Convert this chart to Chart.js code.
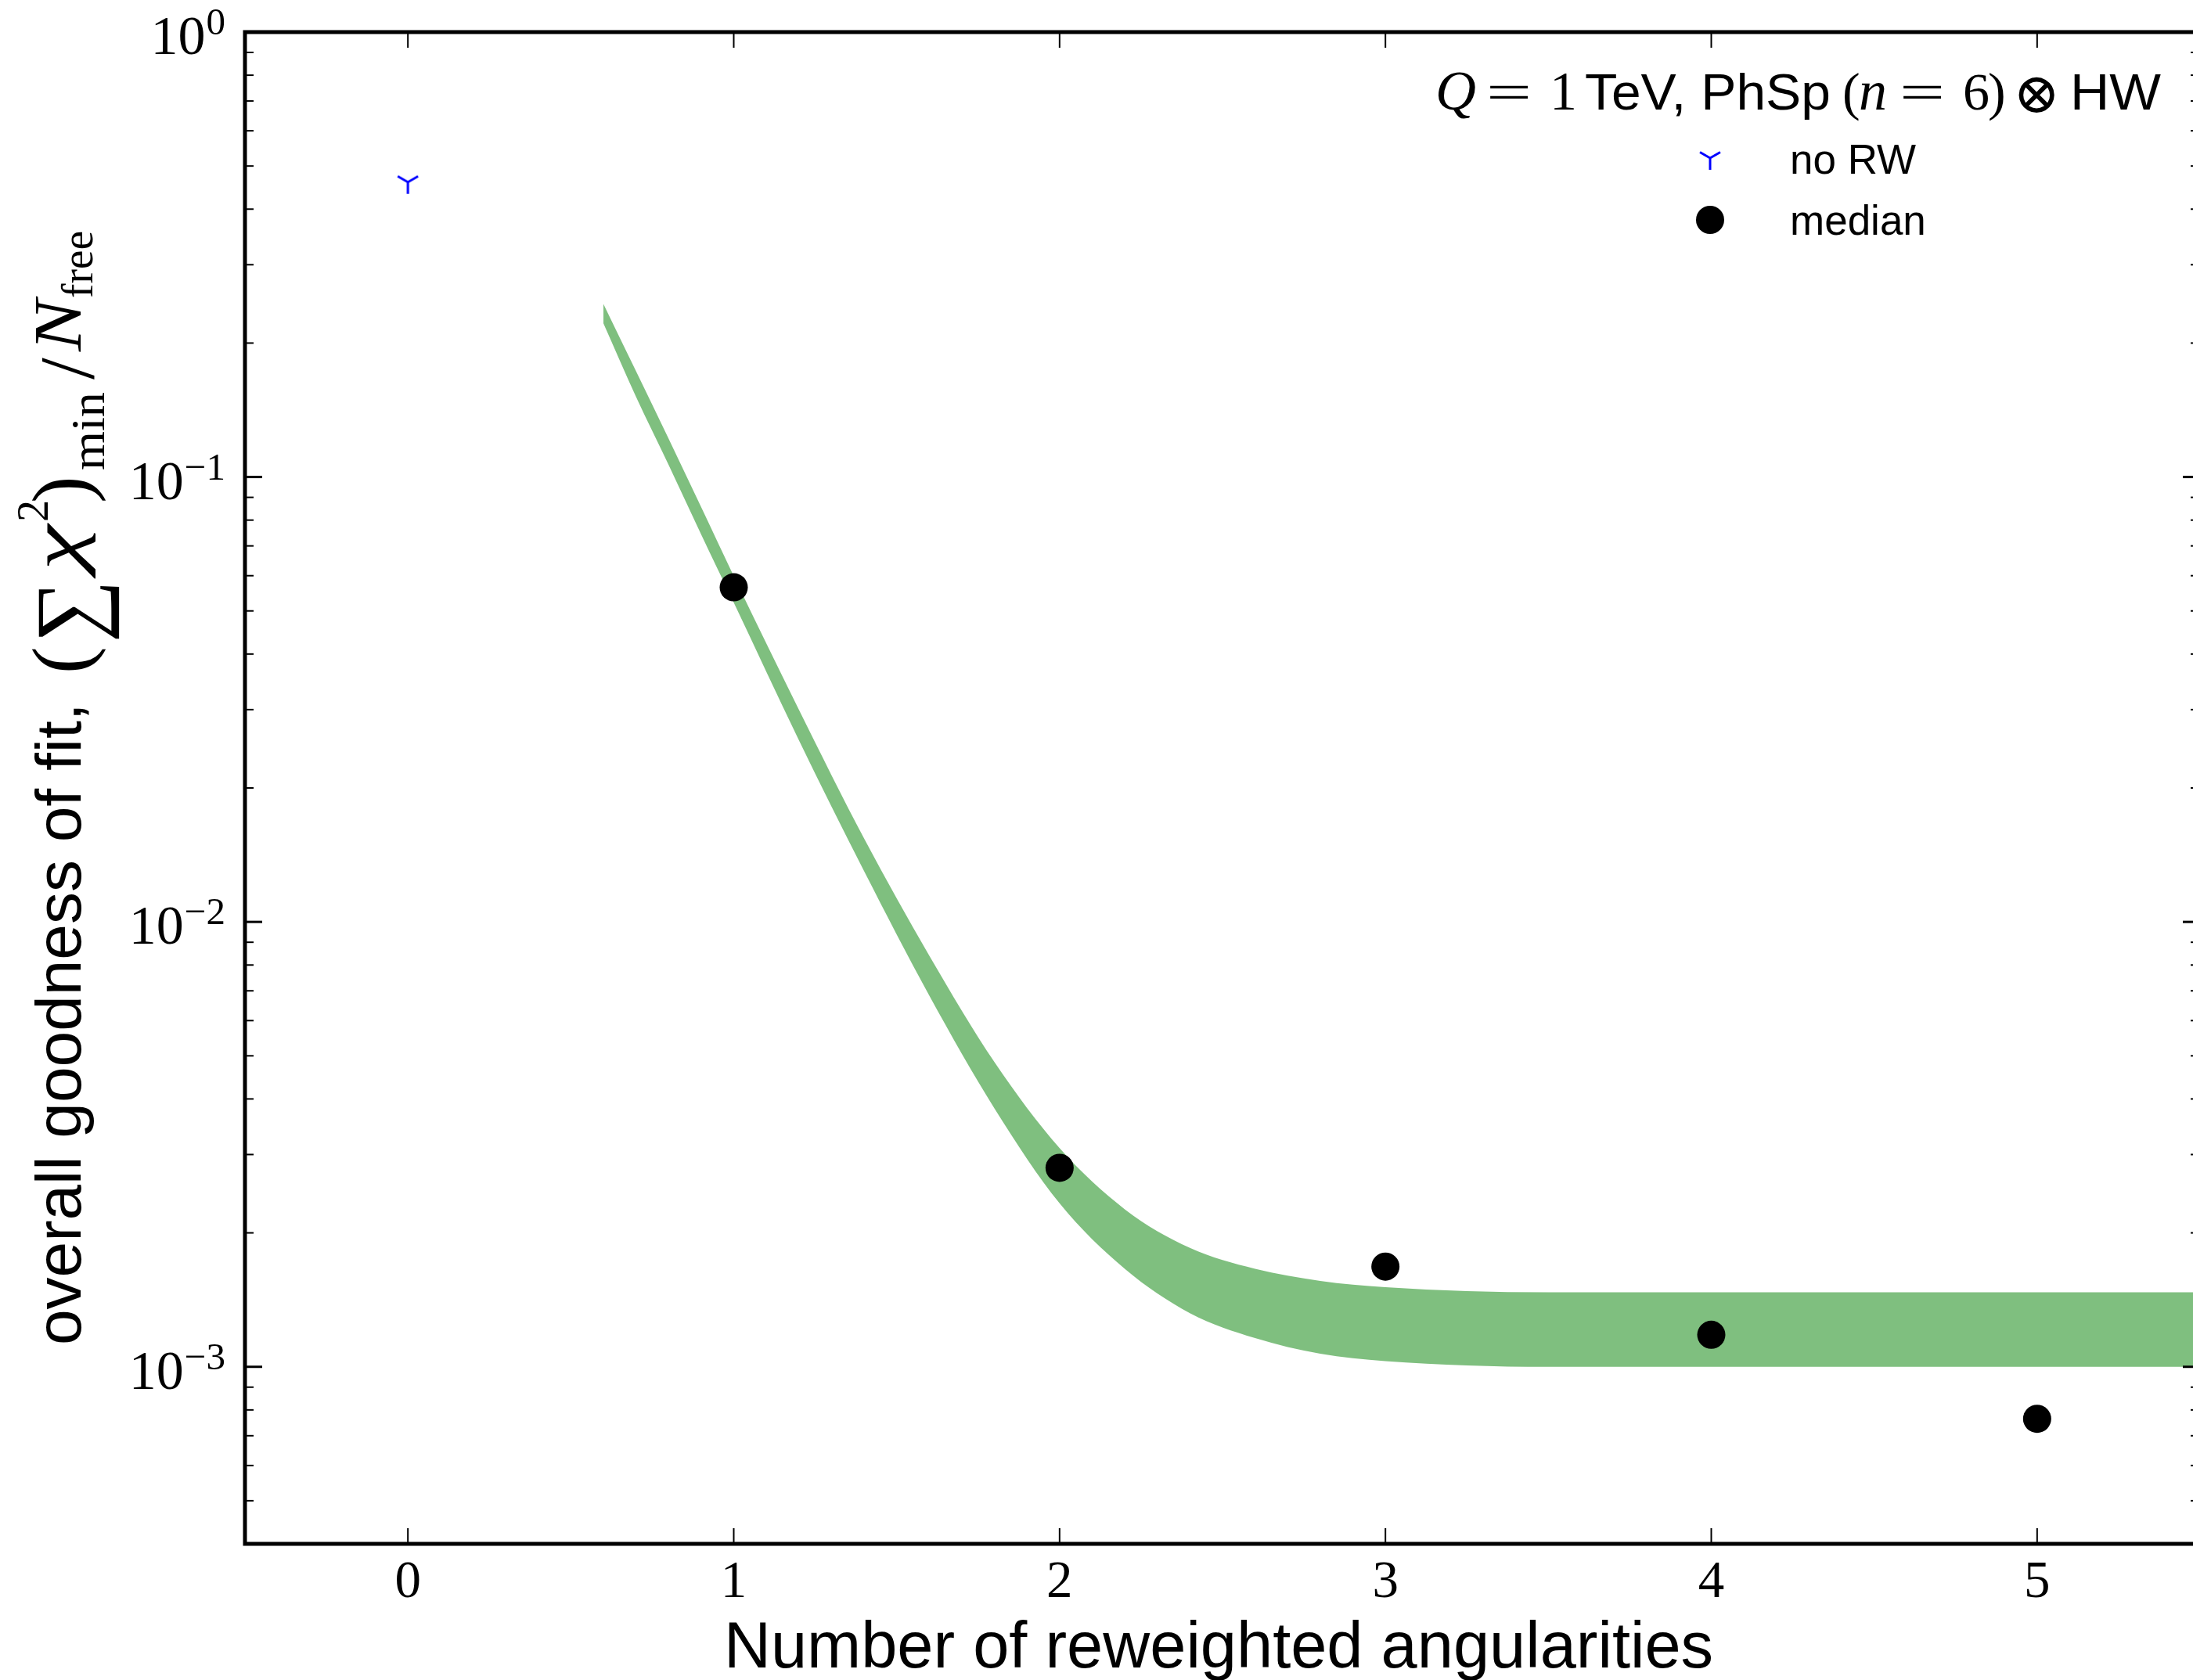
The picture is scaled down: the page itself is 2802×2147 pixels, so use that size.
<!DOCTYPE html>
<html><head><meta charset="utf-8">
<script src="https://cdn.jsdelivr.net/npm/chart.js@4.4.1/dist/chart.umd.min.js"></script>
<style>html,body{margin:0;padding:0;background:#fff;overflow:hidden;width:2802px;height:2147px}canvas{display:block}</style>
</head><body>
<canvas id="c" width="2830" height="2147"></canvas>
<script>
// ---- data ----
const xTicks = [0, 1, 2, 3, 4, 5];
const xTickLabels = ['0', '1', '2', '3', '4', '5'];
const yMajorTicks = [1e-3, 1e-2, 1e-1, 1];
const yTickExponents = ['\u22123', '\u22122', '\u22121', '0'];
const noRwX = [0];
const noRwY = [0.46];
const medianX = [1, 2, 3, 4, 5];
const medianY = [0.0565, 0.00280, 0.00168, 0.00118, 0.000764];
const bandX = [0.6, 0.7, 0.8, 0.9, 1.0, 1.2, 1.4, 1.6, 1.8, 2.0, 2.2, 2.4, 2.6, 2.8, 3.0, 3.5, 4.0, 4.5, 5.0, 5.5];
const bandUpper = [0.245, 0.173, 0.122, 0.0856, 0.0599, 0.0300, 0.0154, 0.0084, 0.00484, 0.00310, 0.00226, 0.00185, 0.00166, 0.00156, 0.00151, 0.00147, 0.00147, 0.00147, 0.00147, 0.00147];
const bandLower = [0.2216, 0.1515, 0.1065, 0.0743, 0.0522, 0.0256, 0.0130, 0.00683, 0.00381, 0.00233, 0.00166, 0.00132, 0.00116, 0.00107, 0.00103, 0.00100, 0.00100, 0.00100, 0.00100, 0.00100];
const xLabel = 'Number of reweighted angularities';
const yLabelText = 'overall goodness of fit,';
const legendLabels = ['no RW', 'median'];

const SANS = '"Liberation Sans", Arial, sans-serif';
const SERIF = '"Liberation Serif", "DejaVu Serif", serif';
const X_MIN = -0.5, X_MAX = 5.5, Y_MIN = 4e-4, Y_MAX = 1;

function triDown() {
  const c = document.createElement('canvas');
  c.width = 40; c.height = 40;
  const g = c.getContext('2d');
  const r = 15;
  g.strokeStyle = '#0000ff'; g.lineWidth = 3;
  g.beginPath();
  g.moveTo(20, 20); g.lineTo(20, 20 + r);
  g.moveTo(20, 20); g.lineTo(20 + 0.866 * r, 20 - 0.5 * r);
  g.moveTo(20, 20); g.lineTo(20 - 0.866 * r, 20 - 0.5 * r);
  g.stroke();
  return c;
}
const triMarker = triDown();

// draw text runs at absolute positions along the baseline; optional width stretch (w)
function drawAbs(ctx, runs, base) {
  for (const r of runs) {
    ctx.font = r.f;
    if (r.w) {
      const m = ctx.measureText(r.t).width;
      ctx.save();
      ctx.translate(r.x, base + (r.dy || 0));
      ctx.scale(r.w / m, 1);
      ctx.fillText(r.t, 0, 0);
      ctx.restore();
    } else {
      ctx.fillText(r.t, r.x, base + (r.dy || 0));
    }
  }
}

const decor = {
  id: 'decor',
  afterDatasetsDraw(chart) {
    const ctx = chart.ctx, a = chart.chartArea, xs = chart.scales.x, ys = chart.scales.y;
    ctx.save();
    ctx.strokeStyle = '#000'; ctx.fillStyle = '#000'; ctx.lineCap = 'butt';
    const seg = (x1, y1, x2, y2) => { ctx.beginPath(); ctx.moveTo(x1, y1); ctx.lineTo(x2, y2); ctx.stroke(); };
    // x ticks (bottom + top, inward)
    ctx.lineWidth = 2;
    xTicks.forEach(v => { const p = xs.getPixelForValue(v); seg(p, a.bottom, p, a.bottom - 20); seg(p, a.top, p, a.top + 20); });
    // y minor ticks
    for (let e = -4; e <= 0; e++) {
      for (let m = 2; m <= 9; m++) {
        const v = m * Math.pow(10, e);
        if (v <= Y_MIN * 1.0001 || v >= Y_MAX) continue;
        const p = ys.getPixelForValue(v);
        seg(a.left, p, a.left + 11, p); seg(a.right, p, a.right - 12, p);
      }
    }
    // y major ticks
    ctx.lineWidth = 3;
    yMajorTicks.forEach(v => { const p = ys.getPixelForValue(v); seg(a.left, p, a.left + 22, p); seg(a.right, p, a.right - 22, p); });
    // spines
    ctx.lineWidth = 5;
    ctx.strokeRect(a.left, a.top, a.right - a.left, a.bottom - a.top);

    // x tick labels
    ctx.textAlign = 'center'; ctx.textBaseline = 'alphabetic';
    ctx.font = `67px ${SERIF}`;
    xTicks.forEach((v, i) => ctx.fillText(xTickLabels[i], xs.getPixelForValue(v), a.bottom + 68));
    // y tick labels 10^k
    ctx.textAlign = 'left';
    yMajorTicks.forEach((v, i) => {
      const p = ys.getPixelForValue(v);
      const right = a.left - 25;
      ctx.font = `49px ${SERIF}`;
      const we = ctx.measureText(yTickExponents[i]).width;
      ctx.font = `70px ${SERIF}`;
      const wb = ctx.measureText('10').width;
      ctx.fillText('10', right - we - wb - 1, p + 28);
      ctx.font = `49px ${SERIF}`;
      ctx.fillText(yTickExponents[i], right - we, p + 3);
    });
    // x axis label
    ctx.textAlign = 'center';
    ctx.font = `83px ${SANS}`;
    ctx.fillText(xLabel, 1557, 2131);

    // y axis label (rotated), positions along the text direction
    ctx.save();
    ctx.translate(103, 1719);
    ctx.rotate(-Math.PI / 2);
    ctx.textAlign = 'left';
    drawAbs(ctx, [
      { t: yLabelText, f: `82px ${SANS}`, x: 0 },
      { t: '(', f: `104px ${SERIF}`, x: 858, dy: 10 },
      { t: '\u2211', f: `118px ${SERIF}`, x: 898, dy: 24, w: 80 },
      { t: '\u03C7', f: `italic 92px ${SERIF}`, x: 990, w: 58 },
      { t: '2', f: `56px ${SERIF}`, x: 1052, dy: -42 },
      { t: ')', f: `104px ${SERIF}`, x: 1076, dy: 10 },
      { t: 'min', f: `62px ${SERIF}`, x: 1118, dy: 30, w: 100 },
      { t: '/', f: `100px ${SERIF}`, x: 1234, dy: 16 },
      { t: 'N', f: `italic 86px ${SERIF}`, x: 1270, w: 66 },
      { t: 'free', f: `58px ${SERIF}`, x: 1338, dy: 15, w: 86 }
    ], 0);
    ctx.restore();

    // legend title
    ctx.textAlign = 'left';
    drawAbs(ctx, [
      { t: 'Q', f: `italic 72px ${SERIF}`, x: 1834 },
      { t: '=', f: `66px ${SERIF}`, x: 1899, w: 58 },
      { t: '1', f: `70px ${SERIF}`, x: 1980 },
      { t: 'TeV, PhSp', f: `64px ${SANS}`, x: 2025, w: 314 },
      { t: '(', f: `68px ${SERIF}`, x: 2354 },
      { t: 'n', f: `italic 72px ${SERIF}`, x: 2375 },
      { t: '=', f: `66px ${SERIF}`, x: 2427, w: 58 },
      { t: '6', f: `68px ${SERIF}`, x: 2508 },
      { t: ')', f: `68px ${SERIF}`, x: 2540 },
      { t: '\u2297', f: `72px ${SERIF}`, x: 2572, dy: 4 },
      { t: 'HW', f: `65px ${SANS}`, x: 2645, w: 116 }
    ], 140);
    // legend entries
    ctx.drawImage(triMarker, 2185 - 20, 202 - 20);
    ctx.beginPath(); ctx.arc(2185, 281, 18, 0, Math.PI * 2); ctx.fill();
    ctx.font = `53px ${SANS}`;
    ctx.fillText(legendLabels[0], 2287, 222);
    ctx.fillText(legendLabels[1], 2287, 300);
    ctx.restore();
  }
};

const toXY = (xa, ya) => xa.map((x, i) => ({ x: x, y: ya[i] }));

new Chart(document.getElementById('c'), {
  type: 'line',
  data: {
    datasets: [
      { label: 'band upper', data: toXY(bandX, bandUpper), fill: '+1', backgroundColor: 'rgba(0,128,0,0.5)',
        borderColor: 'rgba(0,0,0,0)', borderWidth: 0, pointRadius: 0, cubicInterpolationMode: 'monotone', order: 3 },
      { label: 'band lower', data: toXY(bandX, bandLower), fill: false, borderColor: 'rgba(0,0,0,0)',
        borderWidth: 0, pointRadius: 0, cubicInterpolationMode: 'monotone', order: 3 },
      { label: legendLabels[0], data: toXY(noRwX, noRwY), showLine: false, pointStyle: triMarker, pointRadius: 15, order: 1 },
      { label: legendLabels[1], data: toXY(medianX, medianY), showLine: false, pointStyle: 'circle', pointRadius: 18,
        backgroundColor: '#000', borderColor: '#000', borderWidth: 0, order: 1 }
    ]
  },
  options: {
    responsive: false, animation: false, devicePixelRatio: 1, events: [],
    layout: { padding: { left: 313, top: 41, right: 19, bottom: 174 } },
    scales: {
      x: { type: 'linear', min: X_MIN, max: X_MAX, display: false },
      y: { type: 'logarithmic', min: Y_MIN, max: Y_MAX, display: false }
    },
    plugins: { legend: { display: false }, tooltip: { enabled: false } }
  },
  plugins: [decor]
});
</script>
</body></html>
